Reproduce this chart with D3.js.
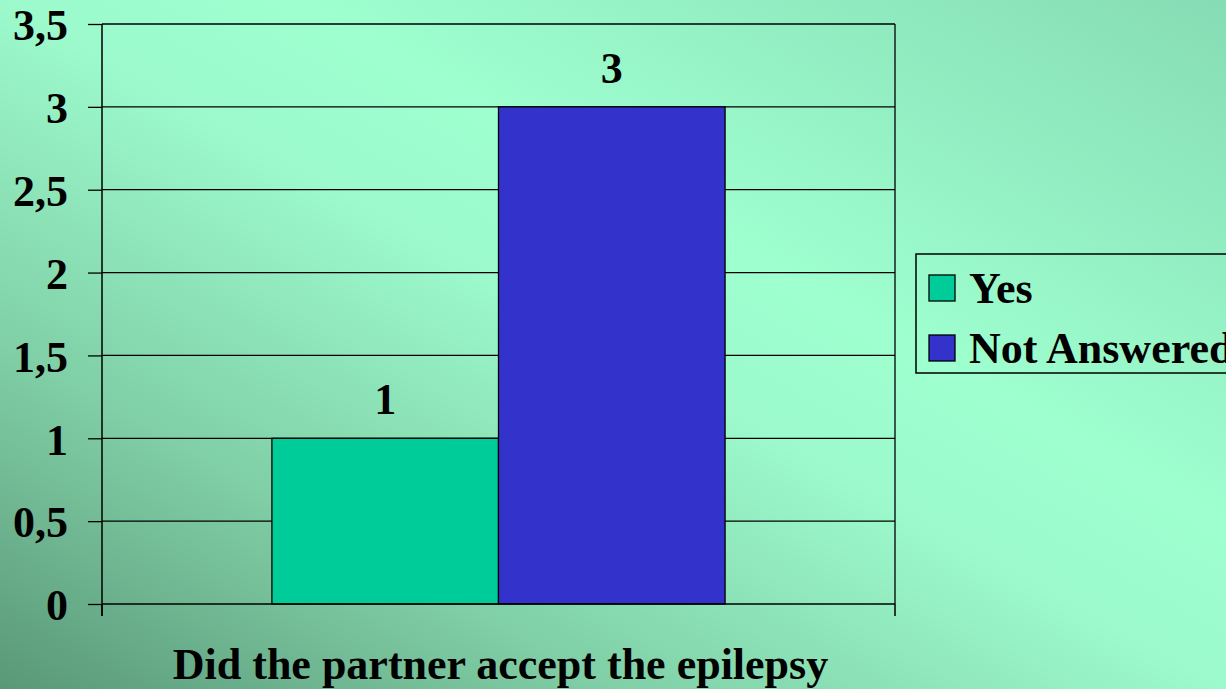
<!DOCTYPE html>
<html>
<head>
<meta charset="utf-8">
<script src="https://cdn.jsdelivr.net/npm/d3@7"></script>
<style>
  html, body { margin: 0; padding: 0; overflow: hidden; }
  svg { display: block; }
</style>
</head>
<body>
<div id="chart"></div>
<script>
const categories = ['Did the partner accept the epilepsy'];
const seriesNames = ['Yes', 'Not Answered'];
const seriesValues = [1, 3];
const seriesColors = ['#00cc99', '#3333cc'];
const yTicks = [0, 0.5, 1, 1.5, 2, 2.5, 3, 3.5];

const width = 1226;
const height = 689;
const margin = {top: 24, right: 331, bottom: 85, left: 102};
const font = '"Liberation Serif", "Times New Roman", serif';
const fontSize = 44;

const svg = d3.select('#chart')
              .append('svg')
              .attr('width', width)
              .attr('height', height);

// background gradient, dark at bottom-left corner
const defs = svg.append('defs');
const grad = defs.append('linearGradient')
                 .attr('id', 'bg')
                 .attr('x1', 0).attr('y1', 1)
                 .attr('x2', 1).attr('y2', 0);
[[0, '#5a9878'], [0.25, '#80cfa6'], [0.5, '#9cfacc'], [0.62, '#9effcf'], [1, '#86dcb4']]
  .forEach(s => grad.append('stop').attr('offset', s[0]).attr('stop-color', s[1]));

svg.append('rect')
   .attr('width', width)
   .attr('height', height)
   .attr('fill', 'url(#bg)');

const x0 = d3.scaleBand()
             .domain(categories)
             .range([margin.left, width - margin.right])
             .paddingInner(0)
             .paddingOuter(0.375);

const x1 = d3.scaleBand()
             .domain(seriesNames)
             .range([0, x0.bandwidth()]);

const y = d3.scaleLinear()
            .domain([0, 3.5])
            .range([height - margin.bottom, margin.top]);

const plotRight = width - margin.right;
const plotBottom = height - margin.bottom;

// gridlines
svg.append('g')
   .selectAll('line')
   .data(yTicks.filter(d => d > 0))
   .enter()
   .append('line')
   .attr('x1', margin.left)
   .attr('x2', plotRight)
   .attr('y1', d => y(d))
   .attr('y2', d => y(d))
   .attr('stroke', '#000')
   .attr('stroke-width', 1.3);

// right border of plot area
svg.append('line')
   .attr('x1', plotRight).attr('x2', plotRight)
   .attr('y1', margin.top).attr('y2', plotBottom)
   .attr('stroke', '#000')
   .attr('stroke-width', 1.3);

// bars
const rows = seriesNames.map((name, i) => ({name: name, value: seriesValues[i], color: seriesColors[i]}));

svg.append('g')
   .selectAll('rect')
   .data(rows)
   .enter()
   .append('rect')
   .attr('x', d => x0(categories[0]) + x1(d.name))
   .attr('y', d => y(d.value))
   .attr('width', x1.bandwidth())
   .attr('height', d => y(0) - y(d.value))
   .attr('fill', d => d.color)
   .attr('stroke', '#000')
   .attr('stroke-width', 1.3);

// value labels
svg.append('g')
   .selectAll('text')
   .data(rows)
   .enter()
   .append('text')
   .text(d => d.value)
   .attr('x', d => x0(categories[0]) + x1(d.name) + x1.bandwidth() / 2)
   .attr('y', d => y(d.value) - 24)
   .attr('text-anchor', 'middle')
   .attr('font-family', font)
   .attr('font-weight', 'bold')
   .attr('font-size', fontSize);

// y axis
const yAxis = svg.append('g')
                 .attr('transform', `translate(${margin.left},0)`)
                 .call(d3.axisLeft(y)
                         .tickValues(yTicks)
                         .tickSize(14)
                         .tickPadding(20)
                         .tickFormat(d => String(d).replace('.', ',')));
yAxis.select('.domain').remove();
yAxis.append('line')
     .attr('x1', 0).attr('x2', 0)
     .attr('y1', margin.top).attr('y2', plotBottom + 12)
     .attr('stroke', '#000')
     .attr('stroke-width', 1.5);
yAxis.selectAll('.tick line').attr('stroke-width', 1.3);
yAxis.selectAll('.tick text')
     .attr('font-family', font)
     .attr('font-weight', 'bold')
     .attr('font-size', fontSize)
     .attr('fill', '#000')
     .attr('dy', '0.36em');

// x axis baseline with boundary ticks
const xAxis = svg.append('g');
xAxis.append('line')
     .attr('x1', margin.left).attr('x2', plotRight)
     .attr('y1', plotBottom).attr('y2', plotBottom)
     .attr('stroke', '#000')
     .attr('stroke-width', 1.5);
xAxis.selectAll('line.tick')
     .data([margin.left, plotRight])
     .enter()
     .append('line')
     .attr('class', 'tick')
     .attr('x1', d => d).attr('x2', d => d)
     .attr('y1', plotBottom).attr('y2', plotBottom + 12)
     .attr('stroke', '#000')
     .attr('stroke-width', 1.5);

svg.append('text')
   .text(categories[0])
   .attr('x', x0(categories[0]) + x0.bandwidth() / 2 + 2)
   .attr('y', 679)
   .attr('text-anchor', 'middle')
   .attr('font-family', font)
   .attr('font-weight', 'bold')
   .attr('font-size', fontSize);

// legend
const legend = svg.append('g');
legend.append('rect')
      .attr('x', 916)
      .attr('y', 254)
      .attr('width', 330)
      .attr('height', 119)
      .attr('fill', 'none')
      .attr('stroke', '#000')
      .attr('stroke-width', 1.5);

const items = legend.selectAll('g.item')
                    .data(rows)
                    .enter()
                    .append('g')
                    .attr('class', 'item')
                    .attr('transform', (d, i) => `translate(929,${275 + i * 60})`);
items.append('rect')
     .attr('width', 26)
     .attr('height', 26)
     .attr('fill', d => d.color)
     .attr('stroke', '#000')
     .attr('stroke-width', 1.3);
items.append('text')
     .text(d => d.name)
     .attr('x', 40)
     .attr('y', 28)
     .attr('font-family', font)
     .attr('font-weight', 'bold')
     .attr('font-size', fontSize);
</script>
</body>
</html>
